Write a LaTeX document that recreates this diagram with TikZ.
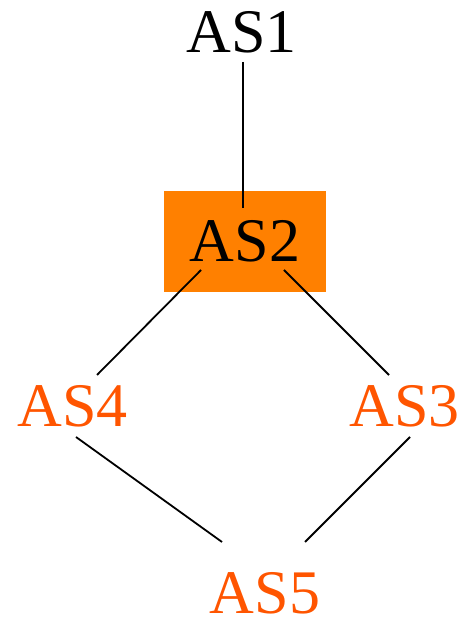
\documentclass[tikz,border=0pt]{standalone}
\usepackage{fontspec}
\setmainfont{Liberation Serif}
\definecolor{boxorange}{RGB}{255,128,0}
\definecolor{textorange}{RGB}{255,85,0}
\begin{document}
\begin{tikzpicture}[x=1pt,y=1pt,
  astext/.style={inner sep=0pt, anchor=base, text depth=0pt, font=\fontsize{62}{68}\selectfont},
  link/.style={line width=1.8pt, black}]
\useasboundingbox (0,0) rectangle (470,617);
\node[astext] (a1) at (241.5,564) {AS1};
\node[fill=boxorange, minimum width=162pt, minimum height=101pt, inner sep=0pt,
      text height=41pt, text depth=0pt, font=\fontsize{62}{68}\selectfont] (a2) at (245,375.5) {AS2};
\node[astext, text=textorange] (a4) at (72.5,190) {AS4};
\node[astext, text=textorange] (a3) at (404.5,190) {AS3};
\node[astext, text=textorange] (a5) at (265,3.5) {AS5};
\draw[link] ([shift={(1.5pt,-9pt)}]a1.base) -- ([shift={(-2pt,-17pt)}]a2.north);
\draw[link] ([shift={(-44pt,-28.5pt)}]a2.center) -- ([shift={(24.5pt,52pt)}]a4.base);
\draw[link] ([shift={(39pt,-28.5pt)}]a2.center) -- ([shift={(-15.5pt,52pt)}]a3.base);
\draw[link] ([shift={(3.5pt,-10pt)}]a4.base) -- ([shift={(-43pt,71.5pt)}]a5.base);
\draw[link] ([shift={(5.5pt,-10pt)}]a3.base) -- ([shift={(40pt,71.5pt)}]a5.base);
\end{tikzpicture}
\end{document}
